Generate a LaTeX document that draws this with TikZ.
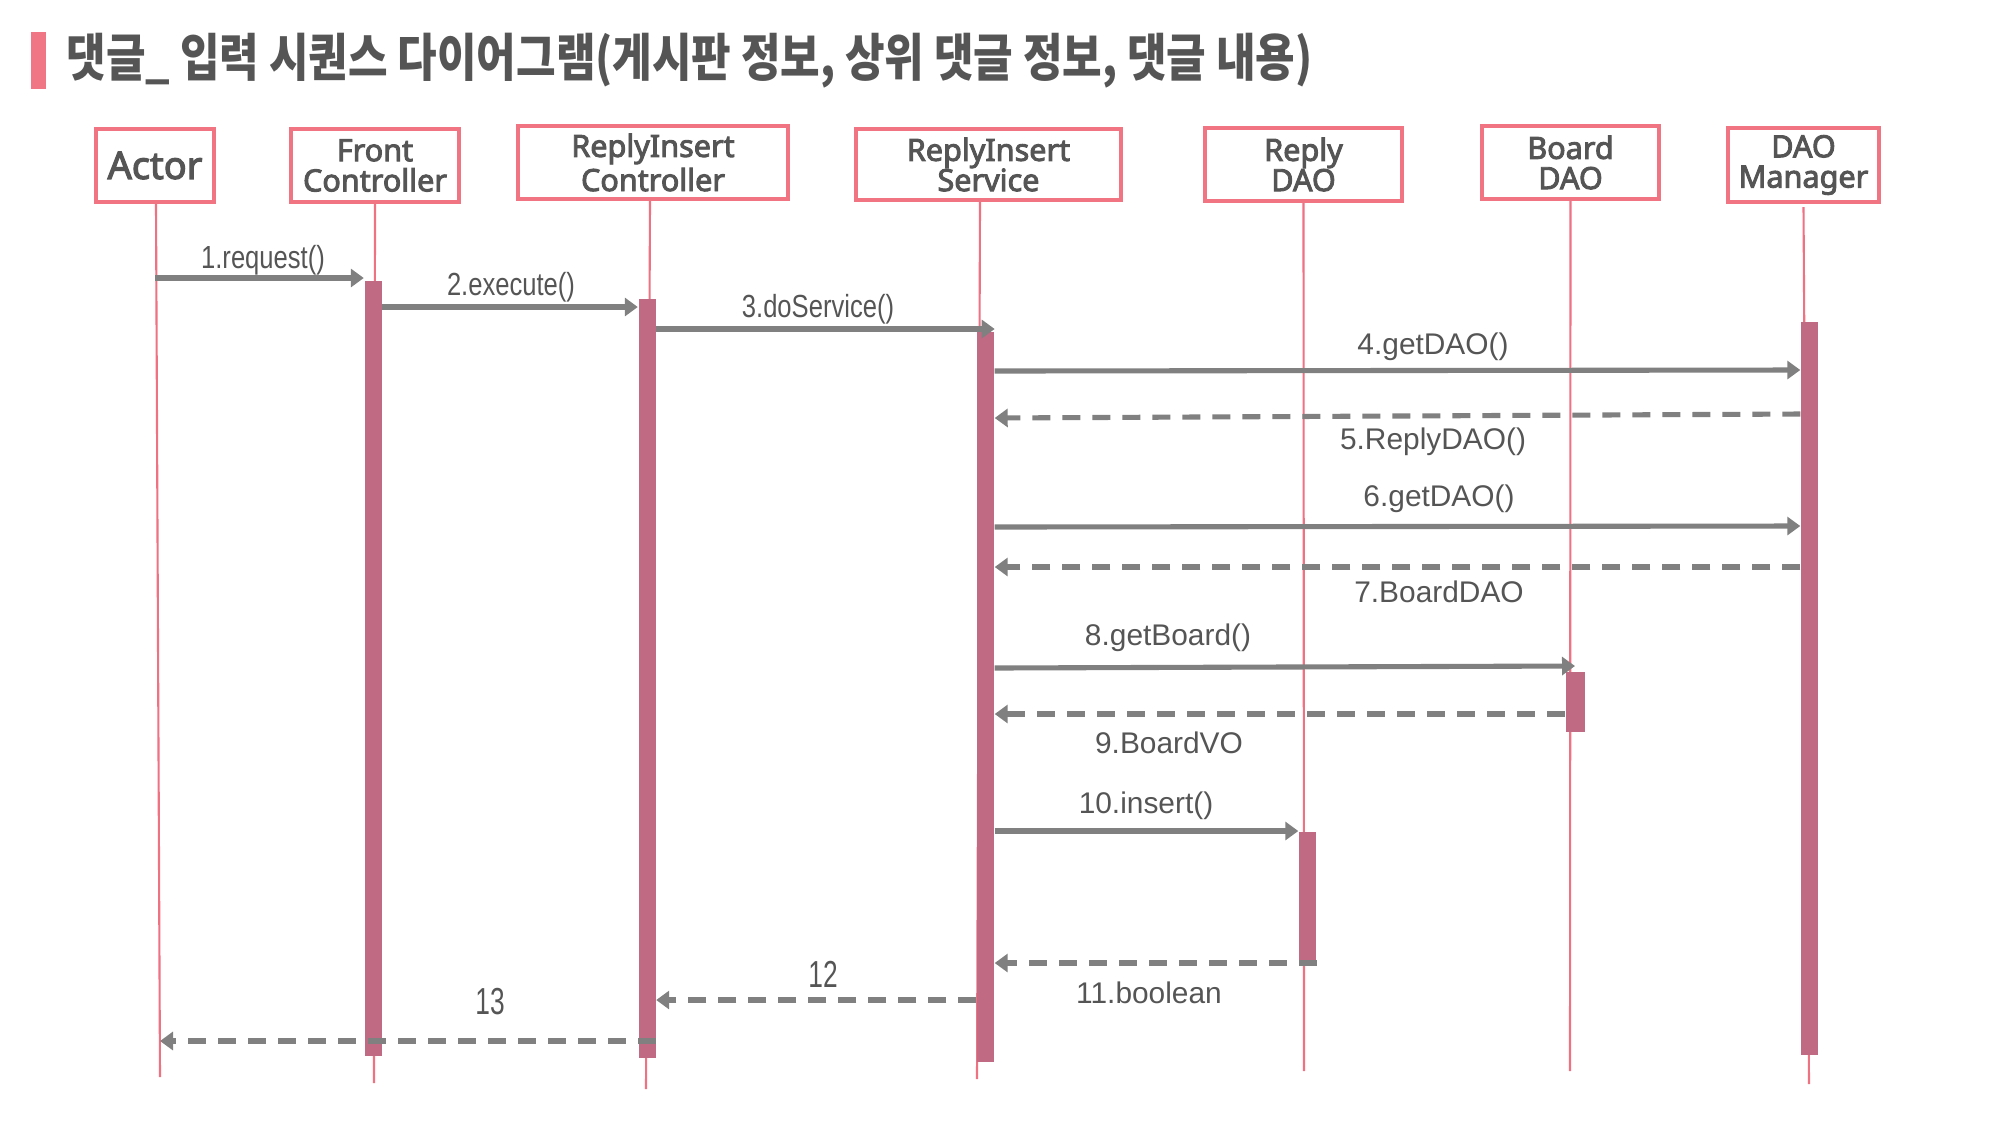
\documentclass[tikz,border=0pt]{standalone}
\usepackage{fontspec}
\usepackage{graphicx}
\usetikzlibrary{arrows.meta}
\setmainfont{Liberation Sans}
\newfontfamily\krfont{Noto Sans CJK KR}
\newfontfamily\boxfont[FakeBold=3]{Noto Sans}
\definecolor{tpink}{HTML}{F07585}
\definecolor{bpink}{HTML}{F07482}
\definecolor{lpink}{HTML}{EE7282}
\definecolor{actc}{HTML}{C06A84}
\definecolor{agray}{HTML}{808080}
\definecolor{txt}{HTML}{555555}
\newcommand\cond[2]{\scalebox{#1}[1]{#2}}
\tikzset{
  part/.style={draw=bpink, line width=1.2pt, fill=white, text=txt, align=center, inner sep=0pt,
    font=\boxfont\fontsize{8.7}{8.6}\selectfont},
  life/.style={draw=lpink, line width=0.6pt},
  actbar/.style={fill=actc, draw=none, inner sep=0pt, minimum width=0.17cm, anchor=north},
  msg/.style={draw=agray, line width=1.45pt, -{Triangle[length=0.13cm,width=0.18cm]}},
  ret/.style={msg, dash pattern=on 0.18cm off 0.12cm},
  lbl/.style={text=txt, inner sep=0pt, font=\fontsize{8.5}{9}\selectfont},
  lblc/.style={text=txt, inner sep=0pt, font=\fontsize{9.1}{9.5}\selectfont},
  lbln/.style={text=txt, inner sep=0pt, font=\fontsize{10.7}{11}\selectfont},
}
\begin{document}
\begin{tikzpicture}
\useasboundingbox (0,0) rectangle (20,-11.25);
% title
\node[fill=tpink, inner sep=0pt, minimum width=0.15cm, minimum height=0.57cm] (tbar) at (0.385,-0.605) {};
\node[anchor=west, inner sep=0pt, text=txt] (title) at (0.66,-0.61)
  {\cond{0.838}{\krfont\bfseries\fontsize{14.6}{15}\selectfont 댓글\_ 입력 시퀀스 다이어그램(게시판 정보, 상위 댓글 정보, 댓글 내용)}};
% participants
\node[part, minimum width=1.18cm, minimum height=0.73cm, font=\boxfont\fontsize{10.8}{11}\selectfont] (actor) at (1.55,-1.655) {Actor};
\node[part, minimum width=1.68cm, minimum height=0.73cm] (fc) at (3.75,-1.655) {Front\\Controller};
\node[part, minimum width=2.70cm, minimum height=0.73cm] (ric) at (6.53,-1.625) {ReplyInsert\\Controller};
\node[part, minimum width=2.65cm, minimum height=0.71cm] (ris) at (9.885,-1.645) {ReplyInsert\\Service};
\node[part, minimum width=1.97cm, minimum height=0.73cm] (rdao) at (13.035,-1.645) {Reply\\DAO};
\node[part, minimum width=1.77cm, minimum height=0.73cm] (bdao) at (15.705,-1.625) {Board\\DAO};
\node[part, minimum width=1.51cm, minimum height=0.74cm] (mgr) at (18.035,-1.65) {DAO\\Manager};
% lifeline ends
\coordinate (actorEnd) at (1.60,-10.77);
\coordinate (fcEnd) at (3.74,-10.83);
\coordinate (ricEnd) at (6.46,-10.89);
\coordinate (risEnd) at (9.77,-10.79);
\coordinate (rdaoEnd) at (13.04,-10.71);
\coordinate (bdaoEnd) at (15.70,-10.71);
\coordinate (mgrEnd) at (18.09,-10.84);
\draw[life] ([xshift=0.01cm]actor.south) -- (actorEnd);
\draw[life] (fc.south) -- (fcEnd);
\draw[life] ([xshift=-0.03cm]ric.south) -- (ricEnd);
\draw[life] ([xshift=-0.085cm]ris.south) -- (risEnd);
\draw[life] (rdao.south) -- (rdaoEnd);
\draw[life] (bdao.south) -- (bdaoEnd);
\draw[life] ([yshift=-0.03cm]mgr.south) -- (mgrEnd);
% activation bars
\node[actbar, minimum height=7.75cm] (aFC) at (3.73,-2.80) {};
\node[actbar, minimum height=7.59cm] (aRIC) at (6.47,-2.98) {};
\node[actbar, minimum height=7.30cm] (aRIS) at (9.855,-3.31) {};
\node[actbar, minimum height=7.33cm] (aMGR) at (18.095,-3.21) {};
\node[actbar, minimum height=0.60cm, minimum width=0.19cm] (aBD) at (15.75,-6.71) {};
\node[actbar, minimum height=1.32cm] (aRD) at (13.075,-8.31) {};
% messages
\draw[msg] (actor |- 0,-2.78) -- (aFC.west |- 0,-2.78);
\draw[msg] (aFC.east |- 0,-3.07) -- (aRIC.west |- 0,-3.07);
\draw[msg] (aRIC.east |- 0,-3.29) -- (aRIS.north east |- 0,-3.29);
\draw[msg] (aRIS.east |- 0,-3.71) -- (aMGR.west |- 0,-3.70);
\draw[ret] (aMGR.west |- 0,-4.14) -- (aRIS.east |- 0,-4.18);
\draw[msg] (aRIS.east |- 0,-5.27) -- (aMGR.west |- 0,-5.26);
\draw[ret] (aMGR.west |- 0,-5.67) -- (aRIS.east |- 0,-5.67);
\draw[msg] (aRIS.east |- 0,-6.68) -- (aBD.north |- 0,-6.66);
\draw[ret] (aBD.west |- 0,-7.14) -- (aRIS.east |- 0,-7.14);
\draw[msg] (aRIS.east |- 0,-8.31) -- (aRD.west |- 0,-8.31);
\draw[ret] (aRD.east |- 0,-9.63) -- (aRIS.east |- 0,-9.63);
\draw[ret] (aRIS.west |- 0,-10.00) -- (aRIC.east |- 0,-10.00);
\draw[ret] (aRIC.east |- 0,-10.41) -- (actorEnd |- 0,-10.41);
% labels
\node[lblc] (l1) at (2.63,-2.60) {\cond{0.8}{1.request()}};
\node[lblc] (l2) at (5.11,-2.87) {\cond{0.8}{2.execute()}};
\node[lblc] (l3) at (8.18,-3.09) {\cond{0.8}{3.doService()}};
\node[lbl] (l4) at (14.33,-3.47) {4.getDAO()};
\node[lbl] (l5) at (14.33,-4.42) {5.ReplyDAO()};
\node[lbl] (l6) at (14.39,-4.99) {6.getDAO()};
\node[lbl] (l7) at (14.39,-5.92) {7.BoardDAO};
\node[lbl] (l8) at (11.68,-6.38) {8.getBoard()};
\node[lbl] (l9) at (11.69,-7.43) {9.BoardVO};
\node[lbl] (l10) at (11.46,-8.06) {10.insert()};
\node[lbl] (l11) at (11.49,-9.93) {11.boolean};
\node[lbln] (l12) at (8.23,-9.74) {\cond{0.7}{12}};
\node[lbln] (l13) at (4.90,-10.02) {\cond{0.7}{13}};
\end{tikzpicture}
\end{document}
